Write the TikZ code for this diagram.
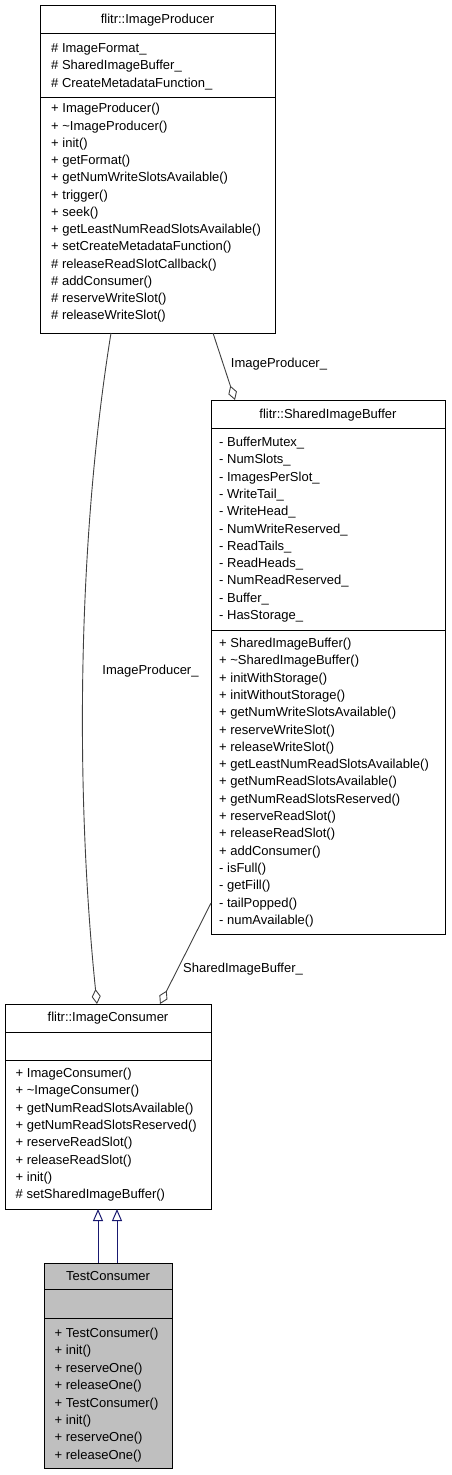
\documentclass[tikz,border=0pt]{standalone}
\usepackage{fontspec}
\setmainfont{Liberation Sans}
\usetikzlibrary{arrows.meta}
\definecolor{tcfill}{HTML}{BFBFBF}
\definecolor{edgecol}{HTML}{404040}
\definecolor{inhcol}{HTML}{191970}
\begin{document}
\begin{tikzpicture}[x=1pt,y=-1pt,
  box/.style={draw=black, line width=1pt, fill=white, inner sep=0pt, outer sep=0pt, anchor=north west},
  tcbox/.style={box, fill=tcfill},
  sepline/.style={draw=black, line width=1pt},
  txt/.style={anchor=base west, inner sep=0pt, font=\fontsize{13}{15}\selectfont},
  ttl/.style={anchor=base, inner sep=0pt, font=\fontsize{13}{15}\selectfont},
  lbl/.style={anchor=base, inner sep=0pt, font=\fontsize{13}{15}\selectfont},
  agg/.style={draw=edgecol, line width=0.9pt, {Diamond[open,length=15pt,width=9pt,line width=0.9pt]}-},
  inh/.style={draw=inhcol, line width=1pt, {Triangle[open,length=12pt,width=10pt,line width=1pt]}-}
]
\useasboundingbox (0,0) rectangle (451,1475);

% ---------- flitr::ImageProducer ----------
\node[box, minimum width=235pt, minimum height=328pt] (ip) at (40,5) {};
\draw[sepline] (40,33) -- (275,33);
\draw[sepline] (40,97) -- (275,97);
\node[ttl] (ipt) at (157.5,23) {flitr::ImageProducer};
\foreach [count=\i] \t in {{\# ImageFormat\_},{\# SharedImageBuffer\_},{\# CreateMetadataFunction\_}}
  \node[txt] (ipa\i) at (51,{52.5+(\i-1)*17.3}) {\t};
\foreach [count=\i] \t in {{+ ImageProducer()},{+ \textasciitilde ImageProducer()},{+ init()},{+ getFormat()},{+ getNumWriteSlotsAvailable()},{+ trigger()},{+ seek()},{+ getLeastNumReadSlotsAvailable()},{+ setCreateMetadataFunction()},{\# releaseReadSlotCallback()},{\# addConsumer()},{\# reserveWriteSlot()},{\# releaseWriteSlot()}}
  \node[txt] (ipm\i) at (51,{112.8+(\i-1)*17.25}) {\t};

% ---------- flitr::SharedImageBuffer ----------
\node[box, minimum width=234pt, minimum height=534pt] (sib) at (211,400) {};
\draw[sepline] (211,428) -- (445,428);
\draw[sepline] (211,630) -- (445,630);
\node[ttl] (sibt) at (328,418.5) {flitr::SharedImageBuffer};
\foreach [count=\i] \t in {{- BufferMutex\_},{- NumSlots\_},{- ImagesPerSlot\_},{- WriteTail\_},{- WriteHead\_},{- NumWriteReserved\_},{- ReadTails\_},{- ReadHeads\_},{- NumReadReserved\_},{- Buffer\_},{- HasStorage\_}}
  \node[txt] (siba\i) at (219,{446.5+(\i-1)*17.3}) {\t};
\foreach [count=\i] \t in {{+ SharedImageBuffer()},{+ \textasciitilde SharedImageBuffer()},{+ initWithStorage()},{+ initWithoutStorage()},{+ getNumWriteSlotsAvailable()},{+ reserveWriteSlot()},{+ releaseWriteSlot()},{+ getLeastNumReadSlotsAvailable()},{+ getNumReadSlotsAvailable()},{+ getNumReadSlotsReserved()},{+ reserveReadSlot()},{+ releaseReadSlot()},{+ addConsumer()},{- isFull()},{- getFill()},{- tailPopped()},{- numAvailable()}}
  \node[txt] (sibm\i) at (219,{647.5+(\i-1)*17.3}) {\t};

% ---------- flitr::ImageConsumer ----------
\node[box, minimum width=206pt, minimum height=205pt] (ic) at (5,1004) {};
\draw[sepline] (5,1032) -- (211,1032);
\draw[sepline] (5,1060) -- (211,1060);
\node[ttl] (ict) at (108,1021.5) {flitr::ImageConsumer};
\foreach [count=\i] \t in {{+ ImageConsumer()},{+ \textasciitilde ImageConsumer()},{+ getNumReadSlotsAvailable()},{+ getNumReadSlotsReserved()},{+ reserveReadSlot()},{+ releaseReadSlot()},{+ init()},{\# setSharedImageBuffer()}}
  \node[txt] (icm\i) at (15.5,{1077.5+(\i-1)*17.3}) {\t};

% ---------- TestConsumer ----------
\node[tcbox, minimum width=128pt, minimum height=205pt] (tc) at (44,1263) {};
\draw[sepline] (44,1289) -- (172,1289);
\draw[sepline] (44,1318) -- (172,1318);
\node[ttl] (tct) at (108,1280.5) {TestConsumer};
\foreach [count=\i] \t in {{+ TestConsumer()},{+ init()},{+ reserveOne()},{+ releaseOne()},{+ TestConsumer()},{+ init()},{+ reserveOne()},{+ releaseOne()}}
  \node[txt] (tcm\i) at (54.5,{1337.5+(\i-1)*17.4}) {\t};

% ---------- connectors ----------
\draw[agg] ([xshift=92pt]ic.north west) .. controls (76,800) and (76,550) .. ([xshift=71pt]ip.south west);
\node[lbl] (l1) at (150.5,674.5) {ImageProducer\_};

\draw[agg] ([xshift=24pt]sib.north west) -- ([xshift=173pt]ip.south west);
\node[lbl] (l2) at (279,367.5) {ImageProducer\_};

\draw[agg] ([xshift=155pt]ic.north west) -- ([yshift=-503pt]sib.north west);
\node[lbl] (l3) at (243,972.5) {SharedImageBuffer\_};

\draw[inh] ([xshift=93pt]ic.south west) -- ([xshift=54pt]tc.north west);
\draw[inh] ([xshift=112pt]ic.south west) -- ([xshift=73pt]tc.north west);
\end{tikzpicture}
\end{document}
